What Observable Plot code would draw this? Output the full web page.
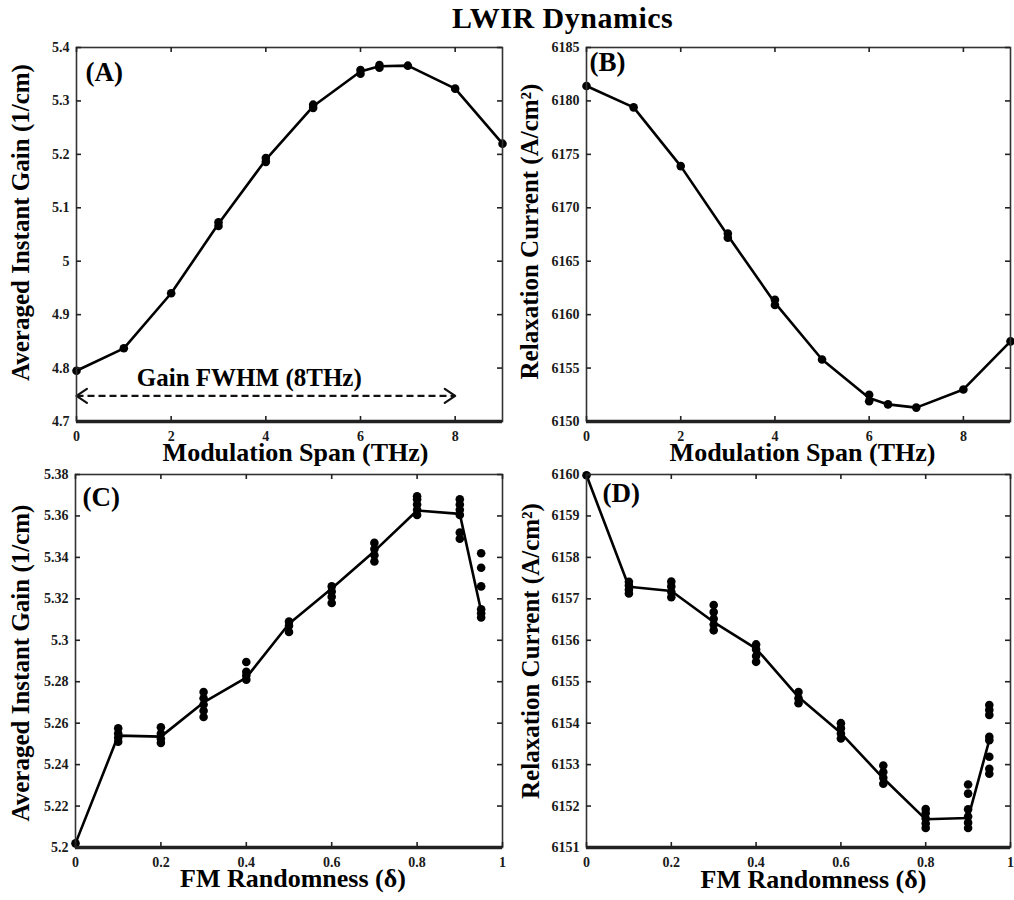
<!DOCTYPE html>
<html>
<head>
<meta charset="utf-8">
<script src="https://cdn.jsdelivr.net/npm/d3@7"></script>
<script src="https://cdn.jsdelivr.net/npm/@observablehq/plot@0.6"></script>
<style>
  body { margin: 0; background: #fff; }
  #wrap { position: relative; width: 1014px; height: 900px; overflow: hidden; background: #fff; }
  #title { position: absolute; left: 452px; top: 1px; font: bold 30px/34px "Liberation Serif", "Times New Roman", serif; letter-spacing: 0.5px; white-space: nowrap; color: #000; }
  .panel { position: absolute; }
</style>
</head>
<body>
<div id="wrap">
  <div id="title">LWIR Dynamics</div>
</div>
<script>
// ---------- data ----------
const titleText = "LWIR Dynamics";

// Panel A: averaged instant gain vs modulation span
const aSpan = [0, 1, 2, 3, 4, 5, 6, 6.4, 7, 8, 9];
const aGain = [4.795, 4.837, 4.94, 5.07, 5.19, 5.29, 5.355, 5.365, 5.366, 5.323, 5.22];
const aDotSpan = [0, 1, 2, 3, 3, 4, 4, 5, 5, 6, 6, 6.4, 6.4, 7, 8, 9];
const aDotGain = [4.795, 4.837, 4.94, 5.066, 5.073, 5.186, 5.193, 5.287, 5.293, 5.351, 5.358, 5.362, 5.367, 5.366, 5.323, 5.22];
const fwhmStart = [0];
const fwhmEnd = [8];
const fwhmLevel = [4.748];
const fwhmLabel = ["Gain FWHM (8THz)"];
const fwhmLabelX = [3.65];
const fwhmLabelY = [4.781];

// Panel B: relaxation current vs modulation span
const bSpan = [0, 1, 2, 3, 4, 5, 6, 6.4, 7, 8, 9];
const bCurrent = [6181.4, 6179.4, 6173.9, 6167.4, 6161.1, 6155.8, 6152.2, 6151.6, 6151.3, 6153.0, 6157.5];
const bDotSpan = [0, 1, 2, 3, 3, 4, 4, 5, 6, 6, 6.4, 7, 8, 9];
const bDotCurrent = [6181.4, 6179.4, 6173.9, 6167.6, 6167.2, 6161.4, 6160.9, 6155.8, 6152.5, 6151.9, 6151.6, 6151.3, 6153.0, 6157.5];

// Panel C: averaged instant gain vs FM randomness
const cRand = [0, 0.1, 0.2, 0.3, 0.4, 0.5, 0.6, 0.7, 0.8, 0.9, 0.95];
const cGain = [5.202, 5.254, 5.2535, 5.270, 5.282, 5.308, 5.325, 5.343, 5.3626, 5.361, 5.314];
const cDotRand = [0,
  0.1, 0.1, 0.1, 0.1,
  0.2, 0.2, 0.2, 0.2,
  0.3, 0.3, 0.3, 0.3, 0.3,
  0.4, 0.4, 0.4, 0.4,
  0.5, 0.5, 0.5,
  0.6, 0.6, 0.6, 0.6,
  0.7, 0.7, 0.7, 0.7,
  0.8, 0.8, 0.8, 0.8, 0.8,
  0.9, 0.9, 0.9, 0.9, 0.9, 0.9,
  0.95, 0.95, 0.95, 0.95, 0.95, 0.95];
const cDotGain = [5.202,
  5.251, 5.253, 5.255, 5.2575,
  5.2505, 5.2525, 5.255, 5.258,
  5.263, 5.266, 5.269, 5.272, 5.275,
  5.281, 5.283, 5.2848, 5.2895,
  5.304, 5.307, 5.309,
  5.318, 5.321, 5.3235, 5.326,
  5.338, 5.341, 5.344, 5.347,
  5.3605, 5.363, 5.3655, 5.368, 5.3695,
  5.349, 5.352, 5.3605, 5.363, 5.3655, 5.368,
  5.311, 5.313, 5.315, 5.326, 5.335, 5.342];

// Panel D: relaxation current vs FM randomness
const dRand = [0, 0.1, 0.2, 0.3, 0.4, 0.5, 0.6, 0.7, 0.8, 0.9, 0.95];
const dCurrent = [6159.98, 6157.29, 6157.19, 6156.44, 6155.8, 6154.63, 6153.76, 6152.67, 6151.68, 6151.71, 6153.59];
const dDotRand = [0,
  0.1, 0.1, 0.1, 0.1,
  0.2, 0.2, 0.2, 0.2,
  0.3, 0.3, 0.3, 0.3, 0.3,
  0.4, 0.4, 0.4, 0.4,
  0.5, 0.5, 0.5,
  0.6, 0.6, 0.6, 0.6,
  0.7, 0.7, 0.7, 0.7,
  0.8, 0.8, 0.8, 0.8, 0.8,
  0.9, 0.9, 0.9, 0.9, 0.9, 0.9,
  0.95, 0.95, 0.95, 0.95, 0.95, 0.95, 0.95, 0.95];
const dDotCurrent = [6159.98,
  6157.13, 6157.22, 6157.32, 6157.41,
  6157.04, 6157.17, 6157.3, 6157.42,
  6156.24, 6156.38, 6156.52, 6156.68, 6156.85,
  6155.48, 6155.62, 6155.78, 6155.9,
  6154.48, 6154.6, 6154.75,
  6153.63, 6153.75, 6153.88, 6154.0,
  6152.54, 6152.68, 6152.82, 6152.98,
  6151.47, 6151.58, 6151.7, 6151.83, 6151.93,
  6151.47, 6151.6, 6151.75, 6151.92, 6152.3, 6152.52,
  6152.78, 6152.9, 6153.19, 6153.59, 6153.67, 6154.2, 6154.32, 6154.44];

// ticks
const spanTicks = [0, 2, 4, 6, 8];
const randTicks = [0, 0.2, 0.4, 0.6, 0.8, 1];
const aYTicks = [4.7, 4.8, 4.9, 5, 5.1, 5.2, 5.3, 5.4];
const bYTicks = [6150, 6155, 6160, 6165, 6170, 6175, 6180, 6185];
const cYTicks = [5.2, 5.22, 5.24, 5.26, 5.28, 5.3, 5.32, 5.34, 5.36, 5.38];
const dYTicks = [6151, 6152, 6153, 6154, 6155, 6156, 6157, 6158, 6159, 6160];

// labels
const spanLabel = "Modulation Span (THz)";
const randLabel = "FM Randomness (\u03B4)";
const gainLabel = "Averaged Instant Gain (1/cm)";
const currentLabel = "Relaxation Current (A/cm\u00B2)";
const tags = ["(A)", "(B)", "(C)", "(D)"];

// ---------- drawing ----------
const FONT = "'Liberation Serif', 'Times New Roman', serif";

function panel(o) {
  const fw = o.w - o.ml - o.mr, fh = o.h - o.mt - o.mb;
  const line = o.lx.map((x, i) => ({px: x, py: o.ly[i]}));
  const dots = o.dx.map((x, i) => ({px: x, py: o.dy[i]}));
  const fmt = d => String(d);
  const svg = Plot.plot({
    width: o.w, height: o.h,
    marginLeft: o.ml, marginRight: o.mr, marginTop: o.mt, marginBottom: o.mb,
    style: {background: "transparent", overflow: "visible", fontFamily: FONT, fontSize: "14px", fontWeight: "bold", color: "#000"},
    x: {domain: o.xDomain, label: null},
    y: {domain: o.yDomain, label: null},
    marks: [
      Plot.line(line, {x: "px", y: "py", stroke: "#000", strokeWidth: 2.6}),
      Plot.dot(dots, {x: "px", y: "py", r: 4.3, fill: "#000", stroke: "none"}),
      ...(o.extra || []),
      Plot.frame({stroke: "#333", strokeWidth: 1.6}),
      Plot.ruleY([o.yDomain[0]], {stroke: "#222", strokeWidth: 3.5}),
      Plot.tickX(o.xTicks, {x: d => d, insetTop: fh - 5, stroke: "#222", strokeWidth: 1.6}),
      Plot.tickX(o.xTicks, {x: d => d, insetBottom: fh - 5, stroke: "#222", strokeWidth: 1.6}),
      Plot.tickY(o.yTicks, {y: d => d, insetRight: fw - 5, stroke: "#222", strokeWidth: 1.6}),
      Plot.tickY(o.yTicks, {y: d => d, insetLeft: fw - 5, stroke: "#222", strokeWidth: 1.6}),
      Plot.axisX({ticks: o.xTicks, tickSize: 0, tickPadding: 10, tickFormat: fmt, label: null, fontSize: 14, fontWeight: "bold", fill: "#1a1a1a"}),
      Plot.axisY({ticks: o.yTicks, tickSize: 0, tickPadding: 7, tickFormat: fmt, label: null, fontSize: 14, fontWeight: "bold", fill: "#1a1a1a"}),
      Plot.text([o.tag], {text: d => d, frameAnchor: "top-left", textAnchor: "start", lineAnchor: "top", dx: o.tagDx, dy: o.tagDy, fontSize: 27, fontWeight: "bold", fill: "#000"}),
      Plot.text([o.xLabel], {text: d => d, frameAnchor: "bottom", textAnchor: "middle", lineAnchor: "middle", dx: o.xlDx, dy: o.xlDy, fontSize: 26, fontWeight: "bold", fill: "#000", ariaLabel: "x-title"}),
      Plot.text([o.yLabel], {text: d => d, frameAnchor: "left", textAnchor: "middle", lineAnchor: "middle", rotate: -90, dx: o.ylDx, dy: o.ylDy, fontSize: 25, fontWeight: "bold", fill: "#000", ariaLabel: "y-title"})
    ]
  });
  svg.querySelectorAll('g[aria-label="x-title"] text').forEach(t => t.style.letterSpacing = "2.7px");
  svg.querySelectorAll('g[aria-label="y-title"] text').forEach(t => t.style.letterSpacing = "1.3px");
  svg.querySelectorAll('g[aria-label="fwhm-label"] text').forEach(t => t.style.letterSpacing = "1px");
  svg.classList.add("panel");
  svg.style.position = "absolute";
  svg.style.left = o.left + "px";
  svg.style.top = o.top + "px";
  return svg;
}

const wrap = document.getElementById("wrap");
document.getElementById("title").textContent = titleText;

const fwhm = fwhmStart.map((s, i) => ({x1: s, x2: fwhmEnd[i], y: fwhmLevel[i]}));
const fwhmText = fwhmLabel.map((t, i) => ({t, x: fwhmLabelX[i], y: fwhmLabelY[i]}));
// open chevron heads at both ends of the dashed span (arm size in data units)
const headDX = 0.22, headDY = 0.013;
const fwhmHeads = fwhm.flatMap((d, i) => [
  {k: "s" + i, x: d.x1 + headDX, y: d.y + headDY},
  {k: "s" + i, x: d.x1, y: d.y},
  {k: "s" + i, x: d.x1 + headDX, y: d.y - headDY},
  {k: "e" + i, x: d.x2 - headDX, y: d.y + headDY},
  {k: "e" + i, x: d.x2, y: d.y},
  {k: "e" + i, x: d.x2 - headDX, y: d.y - headDY}
]);

wrap.appendChild(panel({
  left: 0, top: 0, w: 507, h: 468, ml: 76, mr: 5, mt: 47, mb: 47,
  xDomain: [0, 9], yDomain: [4.7, 5.4], xTicks: spanTicks, yTicks: aYTicks,
  lx: aSpan, ly: aGain, dx: aDotSpan, dy: aDotGain,
  tag: tags[0], tagDx: 9, tagDy: 14,
  xLabel: spanLabel, xlDx: 6, xlDy: 31, yLabel: gainLabel, ylDx: -56, ylDy: -12,
  extra: [
    Plot.link(fwhm, {x1: "x1", x2: "x2", y1: "y", y2: "y", stroke: "#111", strokeWidth: 2.4, strokeDasharray: "7,4"}),
    Plot.line(fwhmHeads, {x: "x", y: "y", z: "k", stroke: "#111", strokeWidth: 2.2}),
    Plot.text(fwhmText, {x: "x", y: "y", text: "t", fontSize: 25, fontWeight: "bold", fill: "#000", ariaLabel: "fwhm-label"})
  ]
}));

wrap.appendChild(panel({
  left: 507, top: 0, w: 507, h: 468, ml: 79, mr: 4, mt: 47, mb: 47,
  xDomain: [0, 9], yDomain: [6150, 6185], xTicks: spanTicks, yTicks: bYTicks,
  lx: bSpan, ly: bCurrent, dx: bDotSpan, dy: bDotCurrent,
  tag: tags[1], tagDx: 3, tagDy: 4,
  xLabel: spanLabel, xlDx: 4, xlDy: 31, yLabel: currentLabel, ylDx: -57, ylDy: -3
}));

wrap.appendChild(panel({
  left: 0, top: 468, w: 507, h: 432, ml: 75, mr: 5, mt: 6, mb: 53,
  xDomain: [0, 1], yDomain: [5.2, 5.38], xTicks: randTicks, yTicks: cYTicks,
  lx: cRand, ly: cGain, dx: cDotRand, dy: cDotGain,
  tag: tags[2], tagDx: 7, tagDy: 12,
  xLabel: randLabel, xlDx: 4, xlDy: 31, yLabel: gainLabel, ylDx: -55, ylDy: 2
}));

wrap.appendChild(panel({
  left: 507, top: 468, w: 507, h: 432, ml: 79, mr: 4, mt: 6, mb: 53,
  xDomain: [0, 1], yDomain: [6151, 6160], xTicks: randTicks, yTicks: dYTicks,
  lx: dRand, ly: dCurrent, dx: dDotRand, dy: dDotCurrent,
  tag: tags[3], tagDx: 16, tagDy: 8,
  xLabel: randLabel, xlDx: 15, xlDy: 32, yLabel: currentLabel, ylDx: -56, ylDy: -10
}));
</script>
</body>
</html>
